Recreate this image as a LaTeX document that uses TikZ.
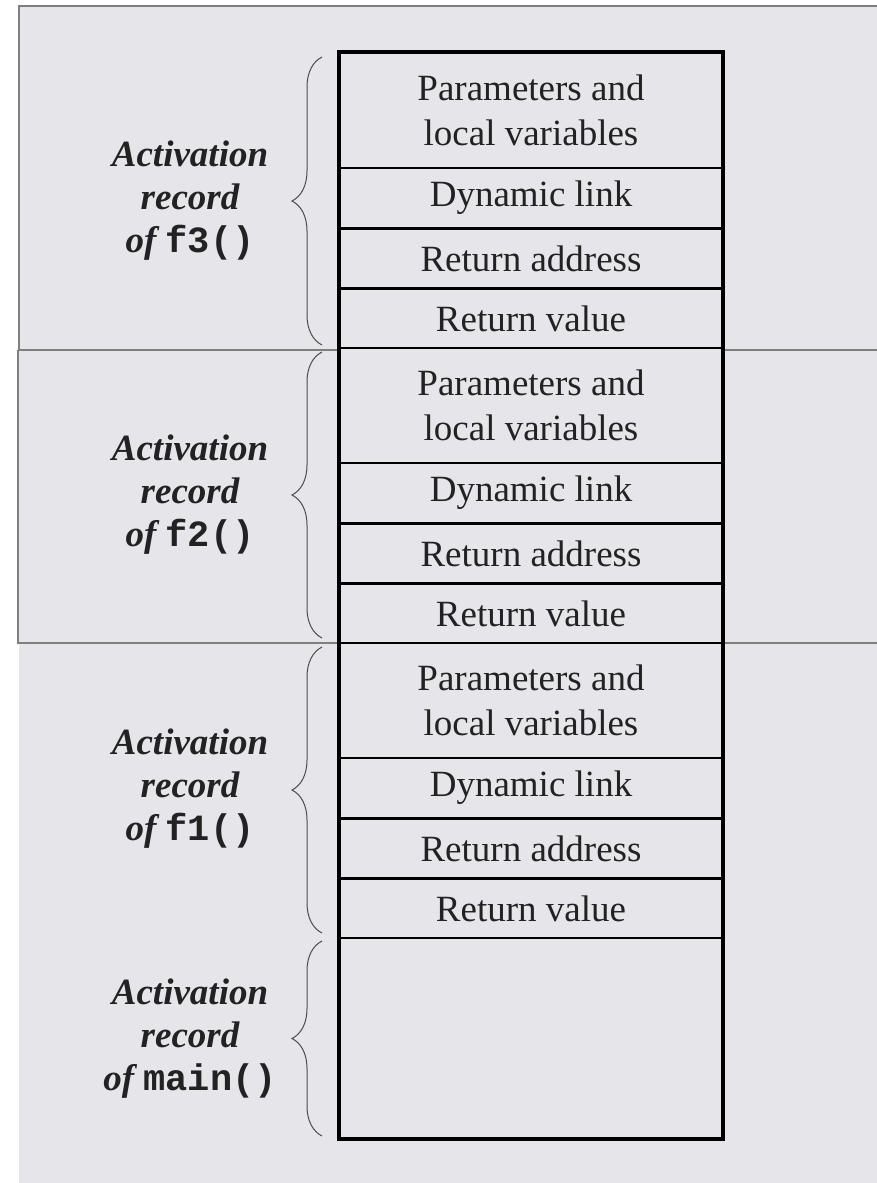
\documentclass[tikz,border=0pt]{standalone}
\usepackage{fontspec}
\setmainfont{Liberation Serif}
\newfontfamily\codefont{Liberation Mono}
\usetikzlibrary{decorations.pathreplacing}
\definecolor{bgc}{HTML}{E6E6EA}
\definecolor{framec}{HTML}{7F7F7F}
\definecolor{txtc}{HTML}{222222}
\tikzset{
  cell/.style={draw=black, line width=2.6pt, fill=bgc, minimum width=382pt, inner sep=0pt,
    align=center, text=txtc, font=\fontsize{37}{45}\selectfont},
  tallcell/.style={cell, minimum height=115pt},
  shortcell/.style={cell, minimum height=60pt},
  label/.style={align=center, text=txtc, font=\fontsize{37}{43}\selectfont\bfseries\itshape},
  bracepath/.style={decorate, decoration={brace, amplitude=30pt}, line width=1pt, draw=black!70},
  frameline/.style={draw=framec, line width=2pt},
  outerbox/.style={draw=black, line width=4.2pt}
}
\newcommand{\cd}[1]{{\codefont\bfseries\upshape #1}}
\begin{document}
\begin{tikzpicture}[x=1pt, y=-1pt]
\useasboundingbox (0,0) rectangle (877,1183);
\fill[white] (0,0) rectangle (877,1183);
\fill[bgc] (19,6) rectangle (877,1183);
% frame lines
\coordinate (ftr) at (877,6);
\coordinate (ftl) at (19,6);
\coordinate (fm1l) at (18,350);
\coordinate (fm1r) at (877,350);
\coordinate (fm2l) at (18,643);
\coordinate (fm2r) at (877,643);
\draw[frameline] (ftr) -- (ftl) -- (19,350);
\draw[frameline] (fm1l) -- (fm1r);
\draw[frameline] (fm1l) -- (fm2l) -- (fm2r);

% f3 record
\node[tallcell]  (p3) at (531,110.5) {Parameters and\\local variables};
\node[shortcell] (d3) at (531,198) {Dynamic link};
\node[shortcell] (a3) at (531,258.5) {Return address};
\node[shortcell] (v3) at (531,318.5) {Return value};
% f2 record
\node[tallcell]  (p2) at (531,405.5) {Parameters and\\local variables};
\node[shortcell] (d2) at (531,493) {Dynamic link};
\node[shortcell] (a2) at (531,553.5) {Return address};
\node[shortcell] (v2) at (531,613.5) {Return value};
% f1 record
\node[tallcell]  (p1) at (531,700.5) {Parameters and\\local variables};
\node[shortcell] (d1) at (531,788) {Dynamic link};
\node[shortcell] (a1) at (531,848.5) {Return address};
\node[shortcell] (v1) at (531,908.5) {Return value};
% main record
\node[cell, minimum height=200pt] (m0) at (531,1038) {};
% outer box
\draw[outerbox] (p3.north west) rectangle (m0.south east);

% braces
\coordinate (b3t) at (322,57);  \coordinate (b3b) at (322,345);
\coordinate (b2t) at (322,352); \coordinate (b2b) at (322,638);
\coordinate (b1t) at (322,647); \coordinate (b1b) at (322,933);
\coordinate (b0t) at (322,941); \coordinate (b0b) at (322,1136);
\draw[bracepath] (b3b) -- (b3t);
\draw[bracepath] (b2b) -- (b2t);
\draw[bracepath] (b1b) -- (b1t);
\draw[bracepath] (b0b) -- (b0t);

% labels
\node[label] (l3) at (190,201) {Activation\\record\\of \cd{f3()}};
\node[label] (l2) at (190,495) {Activation\\record\\of \cd{f2()}};
\node[label] (l1) at (190,789) {Activation\\record\\of \cd{f1()}};
\node[label] (l0) at (190,1039) {Activation\\record\\of \cd{main()}};
\end{tikzpicture}
\end{document}
